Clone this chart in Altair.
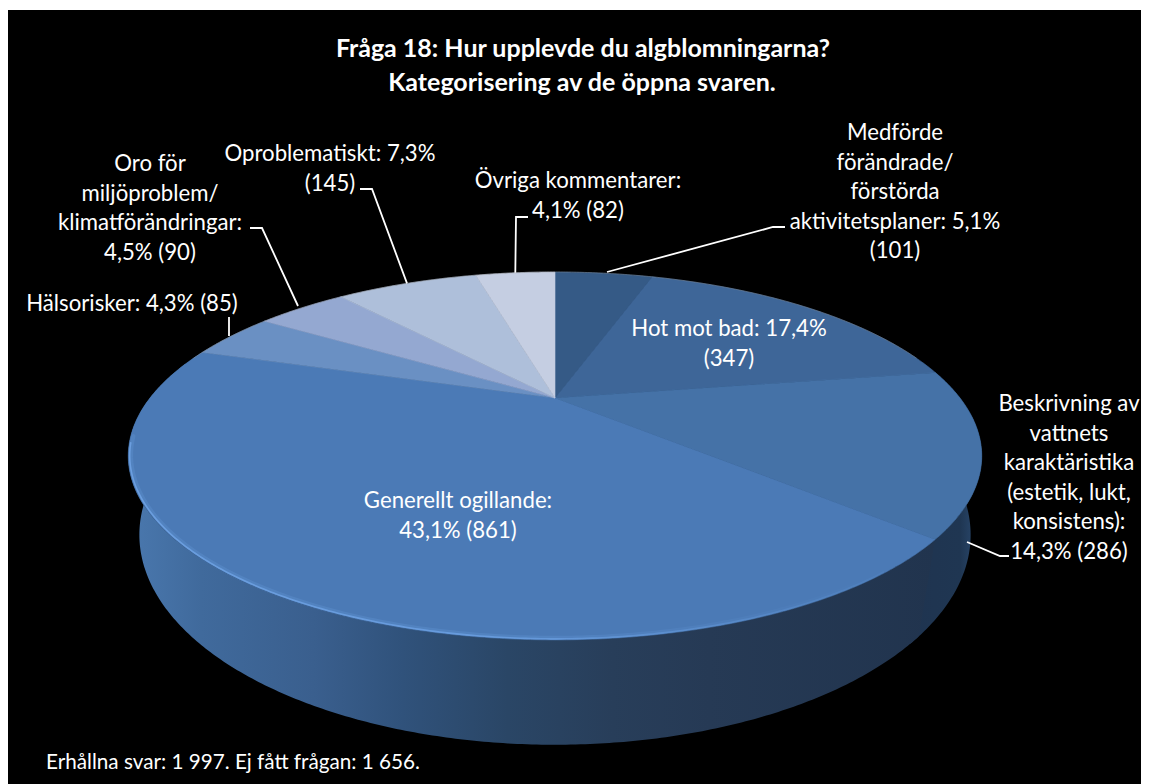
import math
import altair as alt
import pandas as pd

# ---- data ----
categories = ["Medförde", "Hot mot bad", "Beskrivning", "Generellt ogillande",
              "Hälsorisker", "Oro", "Oproblematiskt", "Övriga"]
counts = [101, 347, 286, 861, 85, 90, 145, 82]
colors = ["#355a86", "#3e6698", "#4572a7", "#4b7ab6", "#6a90c3", "#94a8d1", "#aebfda", "#c5cee2"]

title_lines = ["Fråga 18: Hur upplevde du algblomningarna?", "Kategorisering av de öppna svaren."]
footer = "Erhållna svar:  1 997. Ej fått frågan: 1 656."
label_lines = {
    "Medförde": ["Medförde", "förändrade/", "förstörda", "aktivitetsplaner: 5,1%", "(101)"],
    "Hot mot bad": ["Hot mot bad: 17,4%", "(347)"],
    "Beskrivning": ["Beskrivning av", "vattnets", "karaktäristika", "(estetik, lukt,", "konsistens):", "14,3% (286)"],
    "Generellt ogillande": ["Generellt ogillande:", "43,1% (861)"],
    "Hälsorisker": ["Hälsorisker: 4,3% (85)"],
    "Oro": ["Oro för", "miljöproblem/", "klimatförändringar:", "4,5% (90)"],
    "Oproblematiskt": ["Oproblematiskt: 7,3%", "(145)"],
    "Övriga": ["Övriga kommentarer:", "4,1% (82)"],
}

# ---- layout: centre x and first-line y of each label, line pitch ----
label_pos = {
    "Medförde": (895, 133), "Hot mot bad": (729, 329), "Beskrivning": (1069, 404),
    "Generellt ogillande": (458, 501), "Hälsorisker": (132, 304), "Oro": (150, 164),
    "Oproblematiskt": (330, 154), "Övriga": (578, 181),
}
PITCH = 29.6
leader_start = {"Beskrivning": (967, 542), "Hälsorisker": (229, 336), "Oro": (298, 306), "Medförde": (607, 272)}
elbows = {
    "Medförde": [(773, 227), (785, 227)],
    "Beskrivning": [(1000, 556), (1009, 556)],
    "Hälsorisker": [(229, 317)],
    "Oro": [(262, 228), (250, 228)],
    "Oproblematiskt": [(372, 189), (360, 189)],
    "Övriga": [(516, 217), (528, 217)],
}

W, H = 1133, 776
CX = 555
TOP = dict(cy=398.0, hgt=165.7, r=405.0, k=0.315)
BOT = dict(cy=476.0, hgt=193.5, r=399.0, k=0.28)


def proj(angle_deg, disc, f=1.0):
    t = math.radians(angle_deg)
    x, y = f * math.sin(t), f * math.cos(t)
    w = 1 + disc["k"] * y
    return [CX + disc["r"] * x / w, disc["cy"] - disc["hgt"] * y / w]


def arc(a, b, disc, f=1.0):
    n = max(2, int(abs(b - a) * 2))
    return [proj(a + (b - a) * i / n, disc, f) for i in range(n + 1)]


total = sum(counts)
edges = [0.0]
for c in counts:
    edges.append(edges[-1] + 360.0 * c / total)
span = {cat: (edges[i], edges[i + 1]) for i, cat in enumerate(categories)}


def polygon(points, **props):
    pts = points + [points[0]]
    return {"type": "Feature", "properties": props,
            "geometry": {"type": "Polygon", "coordinates": [pts]}}


def line(points, **props):
    return {"type": "Feature", "properties": props,
            "geometry": {"type": "LineString", "coordinates": points}}


identity = dict(type="identity", scale=1, translate=[-8, -8])
xs = alt.Scale(domain=[8, 8 + W], nice=False, zero=False)
ys = alt.Scale(domain=[8 + H, 8], nice=False, zero=False)


def grad(stops):
    return alt.Gradient(gradient="linear", x1=0, x2=1, y1=0, y2=0,
                        stops=[alt.GradientStop(offset=o, color=c) for o, c in stops])


def wall(cat, stops, extra=0.0):
    a, b = span[cat]
    pts = arc(a, b + extra, TOP) + arc(b + extra, a, BOT)
    return alt.Chart(alt.Data(values=[polygon(pts, cat=cat)])).mark_geoshape(
        fill=grad(stops), strokeWidth=0).project(**identity)


backdrop = alt.Chart(pd.DataFrame({"a": [0]})).mark_rect(color="#000000").encode(
    x=alt.value(0), x2=alt.value(W), y=alt.value(2), y2=alt.value(H))

wall_a = wall("Beskrivning", [(0, "#1f3450"), (0.7, "#1f3652"), (1, "#2d4e76")], extra=2.0)
wall_b = wall("Generellt ogillande", [(0, "#4a78ae"), (0.09, "#406a9c"), (0.23, "#3a5f8e"),
                                      (0.34, "#30527b"), (0.47, "#2a4666"), (0.6, "#283e5a"),
                                      (0.72, "#263a55"), (1, "#21344e")])

slices = [polygon([[CX, TOP["cy"]]] + arc(*span[c], TOP), cat=c) for c in categories]
top = alt.Chart(alt.Data(values=slices)).mark_geoshape(strokeWidth=0.6).encode(
    fill=alt.Fill("properties.cat:N", scale=alt.Scale(domain=categories, range=colors), legend=None),
    stroke=alt.Stroke("properties.cat:N", scale=alt.Scale(domain=categories, range=colors), legend=None),
).project(**identity)

ga, gb = span["Generellt ogillande"]
bevel_wide = alt.Chart(alt.Data(values=[line(arc(ga + 8, gb - 30, TOP, 0.994))])).mark_geoshape(
    filled=False, stroke=grad([(0, "#6ea3e6"), (0.55, "#6ea3e6"), (1, "#4b7ab6")]),
    strokeWidth=4, opacity=0.22, strokeCap="round").project(**identity)
bevel_thin = alt.Chart(alt.Data(values=[line(arc(ga + 10, gb - 32, TOP, 0.997))])).mark_geoshape(
    filled=False, stroke=grad([(0, "#74a8ea"), (0.5, "#6ea3e6"), (1, "#4f80bd")]),
    strokeWidth=1.6, opacity=0.75, strokeCap="round").project(**identity)
back_rim = alt.Chart(alt.Data(values=[line(arc(-75, 75, TOP))])).mark_geoshape(
    filled=False, stroke="#9a9a9a", strokeWidth=0.8, opacity=0.45).project(**identity)

rows = []
for c in categories:
    if c not in elbows:
        continue
    a, b = span[c]
    start = leader_start.get(c, tuple(proj((a + b) / 2, TOP)))
    for i, (x, y) in enumerate([start] + elbows[c]):
        rows.append({"cat": c, "i": i, "x": x, "y": y})
leaders = alt.Chart(pd.DataFrame(rows)).mark_line(color="#ffffff", strokeWidth=1.8).encode(
    x=alt.X("x:Q", scale=xs, axis=None), y=alt.Y("y:Q", scale=ys, axis=None),
    detail="cat:N", order="i:Q")

text_rows = []
for c, lines in label_lines.items():
    x0, y0 = label_pos[c]
    for i, t in enumerate(lines):
        text_rows.append({"x": x0, "y": y0 + i * PITCH, "t": t})
labels = alt.Chart(pd.DataFrame(text_rows)).mark_text(
    font="Lato", fontSize=22.2, color="#ffffff", baseline="middle", align="center").encode(
    x=alt.X("x:Q", scale=xs, axis=None), y=alt.Y("y:Q", scale=ys, axis=None), text="t:N")

title = alt.Chart(pd.DataFrame({"x": [583, 582], "y": [49, 83], "t": title_lines})).mark_text(
    font="Lato", fontSize=25, fontWeight="bold", color="#ffffff", baseline="middle", align="center").encode(
    x=alt.X("x:Q", scale=xs, axis=None), y=alt.Y("y:Q", scale=ys, axis=None), text="t:N")

foot = alt.Chart(pd.DataFrame({"x": [46], "y": [763], "t": [footer]})).mark_text(
    font="Lato", fontSize=20.7, color="#ffffff", baseline="middle", align="left").encode(
    x=alt.X("x:Q", scale=xs, axis=None), y=alt.Y("y:Q", scale=ys, axis=None), text="t:N")

chart = alt.layer(backdrop, wall_a, wall_b, top, bevel_wide, bevel_thin, back_rim,
                  leaders, labels, title, foot).properties(
    width=W, height=H, padding=0, autosize=alt.AutoSizeParams(type="none"), background="#ffffff"
).configure_view(stroke=None)

chart.save("out.html", embed_options={"renderer": "svg", "actions": False})
